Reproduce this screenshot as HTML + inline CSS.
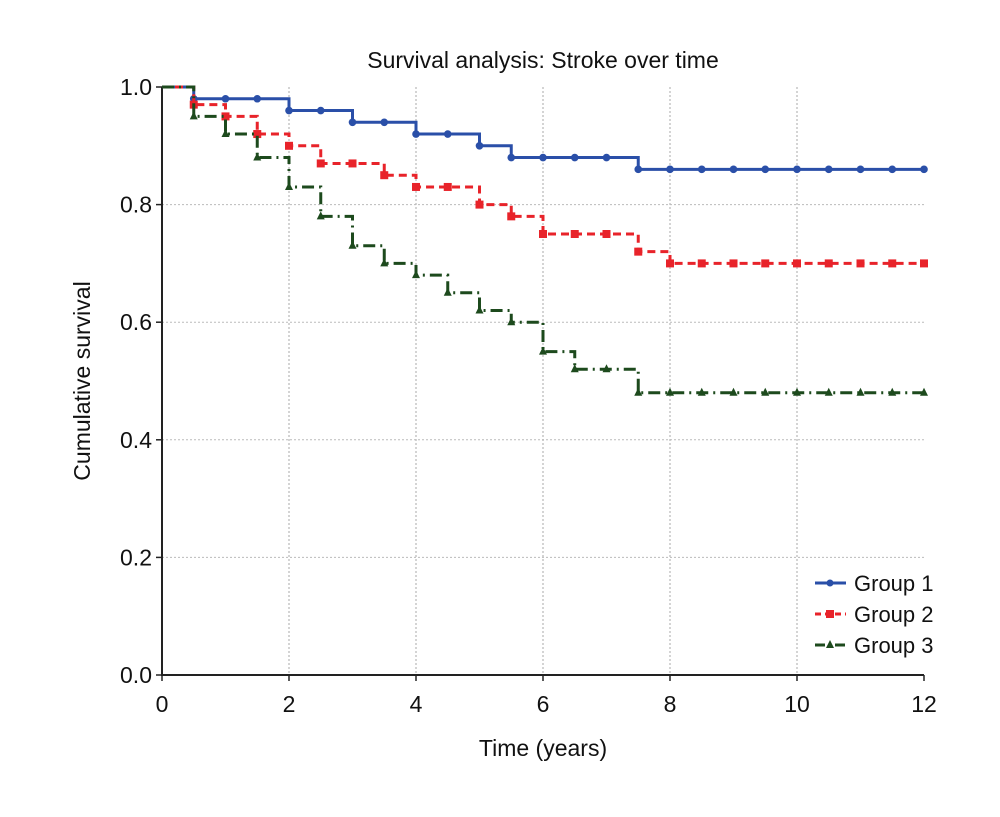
<!DOCTYPE html>
<html><head><meta charset="utf-8"><style>
body{margin:0;background:#fff;}
svg text{font-family:"Liberation Sans Narrow","Liberation Sans",sans-serif;fill:#111;}
</style></head><body>
<svg id="chart" width="1000" height="812" viewBox="0 0 1000 812" xmlns="http://www.w3.org/2000/svg">
<text x="543" y="68" font-size="23" text-anchor="middle">Survival analysis: Stroke over time</text>
<text x="543" y="756" font-size="23" text-anchor="middle">Time (years)</text>
<text transform="translate(90,381) rotate(-90)" font-size="23" text-anchor="middle">Cumulative survival</text>
<g id="grid"></g><g id="axes"></g><g id="series"></g>
<g>
<g><line x1="815" y1="583" x2="846" y2="583" stroke="#2a4fa8" stroke-width="3"/><circle cx="830" cy="583" r="3.5" fill="#2a4fa8"/><text x="854" y="591" font-size="22">Group 1</text></g>
<g><line x1="815" y1="614" x2="846" y2="614" stroke="#e8232a" stroke-width="3" stroke-dasharray="6,4"/><rect x="826" y="610" width="8" height="8" fill="#e8232a"/><text x="854" y="622" font-size="22">Group 2</text></g>
<g><line x1="815" y1="645" x2="846" y2="645" stroke="#1d4a1d" stroke-width="3" stroke-dasharray="10,4,2,4"/><polygon points="830,640 834,648 826,648" fill="#1d4a1d"/><text x="854" y="653" font-size="22">Group 3</text></g>
</g>
</svg>
<script>
const times=[0,0.5,1,1.5,2,2.5,3,3.5,4,4.5,5,5.5,6,6.5,7,7.5,8,8.5,9,9.5,10,10.5,11,11.5,12];
const group1=[1,0.98,0.98,0.98,0.96,0.96,0.94,0.94,0.92,0.92,0.90,0.88,0.88,0.88,0.88,0.86,0.86,0.86,0.86,0.86,0.86,0.86,0.86,0.86,0.86];
const group2=[1,0.97,0.95,0.92,0.90,0.87,0.87,0.85,0.83,0.83,0.80,0.78,0.75,0.75,0.75,0.72,0.70,0.70,0.70,0.70,0.70,0.70,0.70,0.70,0.70];
const group3=[1,0.95,0.92,0.88,0.83,0.78,0.73,0.70,0.68,0.65,0.62,0.60,0.55,0.52,0.52,0.48,0.48,0.48,0.48,0.48,0.48,0.48,0.48,0.48,0.48];
const xTicks=[0,2,4,6,8,10,12];
const yTicks=[0,0.2,0.4,0.6,0.8,1.0];
const X0=162,X1=924,Y0=675,Y1=87;
const xs=t=>X0+(X1-X0)*t/12, ys=v=>Y0-(Y0-Y1)*v;
const NS="http://www.w3.org/2000/svg";
function mk(tag,attrs,parent){const e=document.createElementNS(NS,tag);for(const k in attrs)e.setAttribute(k,attrs[k]);parent.appendChild(e);return e;}
const grid=document.getElementById('grid'),axes=document.getElementById('axes'),ser=document.getElementById('series');
xTicks.forEach(t=>{
 if(t>0&&t<12){const l=mk('line',{x1:xs(t),x2:xs(t),y1:Y1,y2:Y0,stroke:'#aaa','stroke-dasharray':'2,2','stroke-width':1},grid);
 
 }
 const tk=mk('line',{x1:xs(t),x2:xs(t),y1:Y0,y2:Y0+6,stroke:'#222','stroke-width':1.5},axes);
 
 
 const tx=mk('text',{x:xs(t),y:Y0+37,'font-size':23,'text-anchor':'middle'},axes);tx.textContent=t;
 
 
});
yTicks.forEach(v=>{
 if(v>0&&v<1){const l=mk('line',{x1:X0,x2:X1,y1:ys(v),y2:ys(v),stroke:'#bbb','stroke-dasharray':'2,2','stroke-width':1},grid);
 
 }
 const tk=mk('line',{x1:X0-6,x2:X0,y1:ys(v),y2:ys(v),stroke:'#222','stroke-width':1.5},axes);
 
 
 const tx=mk('text',{x:X0-10,y:ys(v)+8,'font-size':23,'text-anchor':'end'},axes);tx.textContent=v.toFixed(1);
 
 
});
const ax=mk('path',{d:`M${X0},${Y1}V${Y0}H${X1}`,fill:'none',stroke:'#222','stroke-width':2},axes);


const defs=[[group1,'#2a4fa8','','circle','group-1'],[group2,'#e8232a','8,5','square','group-2'],[group3,'#1d4a1d','12,5,2,5','triangle','group-3']];
defs.forEach(([vals,col,dash,mark,name])=>{
 let d=`M${xs(times[0])},${ys(vals[0])}`;
 for(let i=1;i<times.length;i++){d+=`H${xs(times[i])}V${ys(vals[i])}`;}
 const p=mk('path',{d,fill:'none',stroke:col,'stroke-width':3,'stroke-dasharray':dash},ser);
 
 
 for(let i=1;i<times.length;i++){
  const cx=xs(times[i]),cy=ys(vals[i]);let m;
  if(mark==='circle')m=mk('circle',{cx,cy,r:3.8,fill:col},ser);
  else if(mark==='square')m=mk('rect',{x:cx-4,y:cy-4,width:8,height:8,fill:col},ser);
  else m=mk('polygon',{points:`${cx},${cy-5} ${cx+4},${cy+3} ${cx-4},${cy+3}`,fill:col},ser);
  
  
 }
});
</script>
</body></html>
